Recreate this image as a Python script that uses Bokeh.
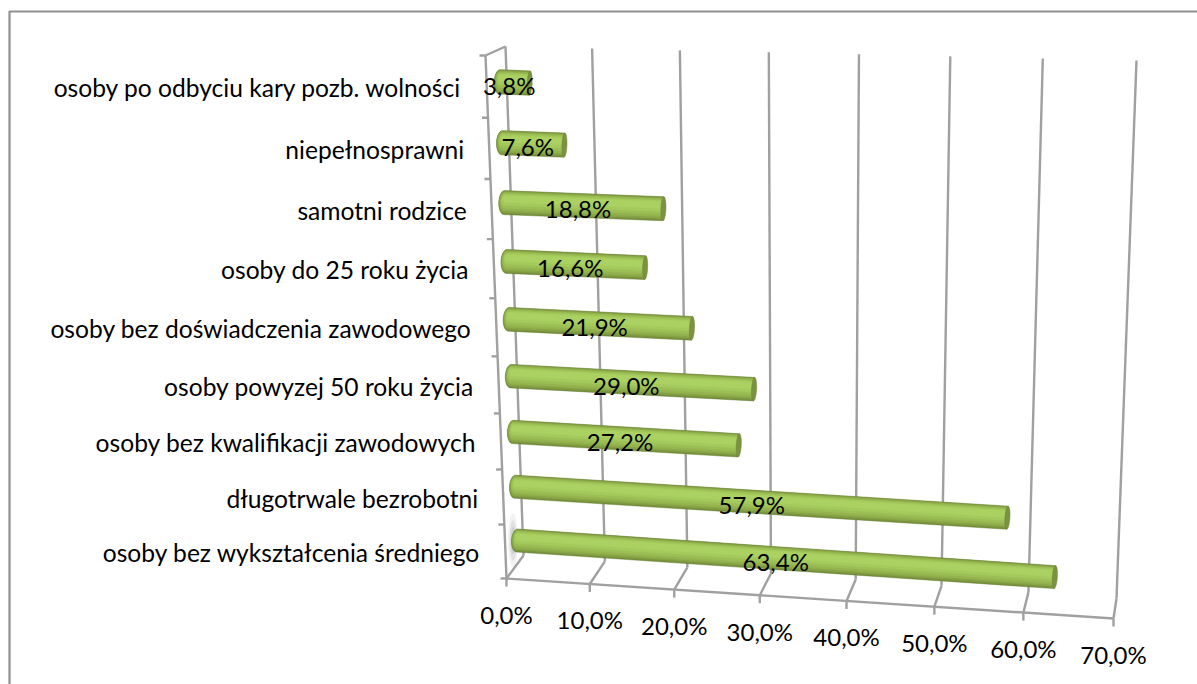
import numpy as np
from bokeh.plotting import figure
from bokeh.embed import file_html
from bokeh.resources import INLINE
from bokeh.core.properties import value

categories = ["osoby po odbyciu kary pozb. wolności", "niepełnosprawni", "samotni rodzice",
              "osoby do 25 roku życia", "osoby bez doświadczenia zawodowego",
              "osoby powyzej 50 roku życia", "osoby bez kwalifikacji zawodowych",
              "długotrwale bezrobotni", "osoby bez wykształcenia średniego"]
values = [3.8, 7.6, 18.8, 16.6, 21.9, 29.0, 27.2, 57.9, 63.4]
axis_ticks = [0, 10, 20, 30, 40, 50, 60, 70]

FONT = value("Lato")
AXMAX = 70.0
BTL, BTR, BBL, BBR = map(np.array, [(505, 46), (1136, 60), (523, 555), (1116, 598)])
FTL, FTR, FBL, FBR = map(np.array, [(485, 55), (1130, 68), (506, 578), (1113, 618)])

def P(v, w, d):
    """Perspective projection: v value, w 0..1 top to bottom, d 0 back .. 1 front."""
    u = v / AXMAX
    u = u - 0.046 * u * (1 - u)
    w = w + 0.08 * w * (1 - w)
    back = (1 - w) * ((1 - u) * BTL + u * BTR) + w * ((1 - u) * BBL + u * BBR)
    front = (1 - w) * ((1 - u) * FTL + u * FTR) + w * ((1 - u) * FBL + u * FBR)
    return (1 - d) * back + d * front

p = figure(width=1197, height=684, x_range=(0, 1197), y_range=(684, 0),
           output_backend="svg", toolbar_location=None, min_border=0,
           outline_line_color=None, background_fill_color="white", border_fill_color="white")
p.axis.visible = False
p.grid.visible = False

# chart frame (runs off the page on the right and at the bottom)
p.line([9, 9, 1197], [684, 11, 11], line_color="#8f8f8f", line_width=2.2)

GRID = "#a0a0a0"
def seg(a, b, w=2.4):
    p.line([a[0], b[0]], [a[1], b[1]], line_color=GRID, line_width=w)

# walls, floor, gridlines, tick marks
for t in axis_ticks:
    top, bb, fb = P(t, 0, 0), P(t, 1, 0), P(t, 1, 1)
    seg(top, bb)
    seg(bb, fb)
    seg(fb, fb + np.array([0, 8]))
seg(P(0, 1, 1), P(70, 1, 1))
seg(P(0, 0, 1), P(0, 1, 1))
seg(P(0, 0, 1), P(0, 0, 0))
for i in range(len(categories) + 1):
    a = P(0, i / len(categories), 1)
    seg(a, a + np.array([-6, 0]))

# soft shadow at the foot of the lowest bar
sh = P(0, 8.5 / 9, 0.5)
for r, a in [(16, .10), (12, .14), (8, .18)]:
    p.ellipse([sh[0] - 1], [sh[1]], width=r * .6, height=r * 3.4, fill_color="#808080",
              fill_alpha=a, line_color=None)

# cylinders as nested bands
SHADES = [(1.00, "#6f8738"), (0.94, "#7c9640"), (0.86, "#88a547"), (0.76, "#93b34e"),
          (0.62, "#9cbf55"), (0.46, "#a4c95c"), (0.28, "#aad161")]
CAP = 5.5
for i, v in enumerate(values):
    w = (i + 0.5) / len(values)
    a = P(0, w, 0.5) + np.array([3, 0])
    b = P(v, w, 0.5) + np.array([-2 * i / 8, 0.5])
    r = 12.2 - 0.7 * i / 8
    dirv = (b - a) / np.linalg.norm(b - a)
    nrm = np.array([-dirv[1], dirv[0]])
    th = np.linspace(np.pi / 2, 3 * np.pi / 2, 15)
    for s, c in SHADES:
        # the light band sits above the axis; the lower flank is the darker one
        shift = -(1 - s) * r * 0.42
        pts = [a - nrm * (np.sin(t) * r * s - shift) + dirv * (np.cos(t) * CAP * s) for t in th]
        pts += [b + nrm * (r * s + shift), b + nrm * (-r * s + shift)]
        pts = np.array(pts)
        p.patch(pts[:, 0], pts[:, 1], fill_color=c, line_color=c, line_width=0.5)
    # end cap
    th2 = np.linspace(0, 2 * np.pi, 30)
    cap = np.array([b + nrm * np.sin(t) * r + dirv * np.cos(t) * 2.5 for t in th2])
    p.patch(cap[:, 0], cap[:, 1], fill_color="#7a9340", line_color="#6b8136", line_width=0.5)

# category labels
for i, c in enumerate(categories):
    q = P(0, (i + 0.5) / len(categories), 1) + np.array([-25, 1])
    p.text([q[0]], [q[1]], text=[c], text_font=FONT, text_font_size="24.6px", text_color="#000000",
           text_align="right", text_baseline="middle")

# axis labels
for t in axis_ticks:
    q = P(t, 1, 1) + np.array([0, 36])
    p.text([q[0]], [q[1]], text=[f"{t:.1f}%".replace(".", ",")], text_font=FONT, text_font_size="24px",
           text_color="#000000", text_align="center", text_baseline="middle")

# data labels
for i, v in enumerate(values):
    q = P(v / 2, (i + 0.5) / len(values), 0.5) + np.array([-4, 3])
    p.text([q[0]], [q[1]], text=[f"{v:.1f}%".replace(".", ",")], text_font=FONT, text_font_size="24px",
           text_color="#000000", text_align="center", text_baseline="middle")

open("out.html", "w").write(file_html(p, INLINE))
